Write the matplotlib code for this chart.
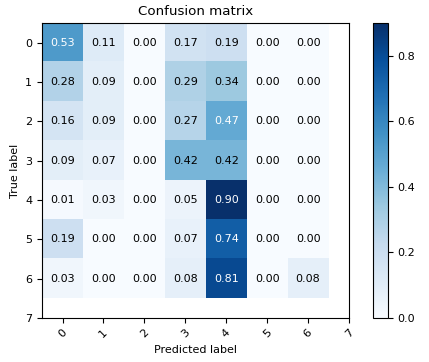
import numpy as np
import matplotlib
matplotlib.use('Agg')
import matplotlib.pyplot as plt

classes = ['0', '1', '2', '3', '4', '5', '6', '7']
cm = np.array([[0.53, 0.11, 0.00, 0.17, 0.19, 0.00, 0.00],
               [0.28, 0.09, 0.00, 0.29, 0.34, 0.00, 0.00],
               [0.16, 0.09, 0.00, 0.27, 0.47, 0.00, 0.00],
               [0.09, 0.07, 0.00, 0.42, 0.42, 0.00, 0.00],
               [0.01, 0.03, 0.00, 0.05, 0.90, 0.00, 0.00],
               [0.19, 0.00, 0.00, 0.07, 0.74, 0.00, 0.00],
               [0.03, 0.00, 0.00, 0.08, 0.81, 0.00, 0.08]])
cbar_ticks = [0.0, 0.2, 0.4, 0.6, 0.8]

plt.rcParams['font.size'] = 8

fig = plt.figure(figsize=(4.29, 3.62), dpi=100)
ax = fig.add_axes([0.098, 0.1215, 0.7155, 0.815])
cax = fig.add_axes([0.869, 0.1215, 0.035, 0.815])

im = ax.imshow(cm, interpolation='nearest', cmap=plt.cm.Blues, aspect='auto')
ax.set_title('Confusion matrix')
cbar = fig.colorbar(im, cax=cax)
cbar.set_ticks(cbar_ticks)

ticks = np.arange(len(classes))
ax.set_xticks(ticks)
ax.set_xticklabels(classes, rotation=45)
ax.set_yticks(ticks)
ax.set_yticklabels(classes)
ax.set_xlim(-0.5, len(classes) - 1)
ax.set_ylim(len(classes) - 1, -0.5)

thresh = cm.max() / 2.
for i in range(cm.shape[0]):
    for j in range(cm.shape[1]):
        ax.text(j, i, format(cm[i, j], '.2f'),
                horizontalalignment='center', verticalalignment='center',
                color='white' if cm[i, j] > thresh else 'black')

ax.set_ylabel('True label')
ax.set_xlabel('Predicted label')

fig.savefig('out.png', dpi=100)
